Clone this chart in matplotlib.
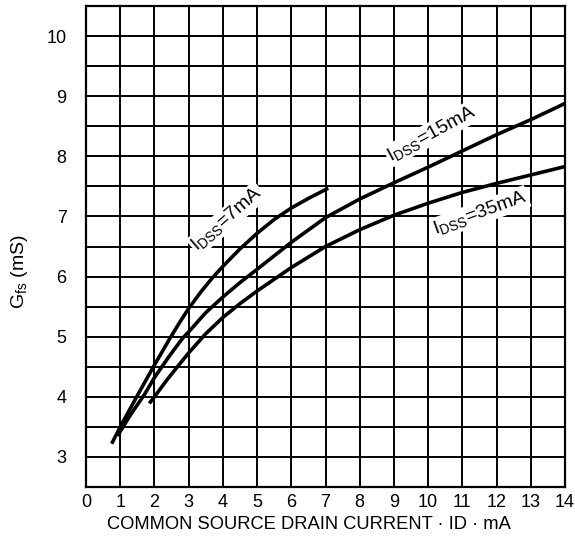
import matplotlib.pyplot as plt
import numpy as np

plt.rcParams['font.family'] = ['Liberation Sans', 'DejaVu Sans']
plt.rcParams['mathtext.fontset'] = 'custom'
plt.rcParams['mathtext.rm'] = 'Liberation Sans'

# transconductance vs drain current, one curve per IDSS
id_7 = [0.75, 1.0, 1.48, 1.97, 2.46, 2.75, 2.99, 3.35, 3.68, 4.0, 4.5, 5.0, 5.5, 6.0, 6.5, 7.08]
gfs_7 = [3.22, 3.5, 4.0, 4.5, 4.98, 5.25, 5.46, 5.74, 5.97, 6.17, 6.46, 6.72, 6.95, 7.14, 7.3, 7.47]

id_15 = [0.92, 1.3, 1.72, 2.0, 2.4, 2.83, 3.0, 3.5, 4.0, 4.5, 5.0, 6.0, 7.0, 8.0, 9.0,
         10.0, 11.0, 12.0, 13.0, 14.0]
gfs_15 = [3.35, 3.7, 4.05, 4.32, 4.65, 4.98, 5.08, 5.4, 5.66, 5.9, 6.12, 6.57, 6.98,
          7.29, 7.56, 7.82, 8.09, 8.36, 8.61, 8.88]

id_35 = [1.85, 2.0, 2.35, 2.7, 3.0, 3.5, 4.0, 4.5, 5.0, 6.0, 7.0, 8.0, 9.0, 10.0,
         11.0, 12.0, 13.0, 14.0]
gfs_35 = [3.89, 4.0, 4.27, 4.52, 4.73, 5.05, 5.32, 5.55, 5.76, 6.15, 6.5, 6.78, 7.02,
          7.22, 7.4, 7.55, 7.69, 7.83]

x_ticks = list(range(0, 15))
y_ticks = [3, 4, 5, 6, 7, 8, 9, 10]

fig = plt.figure(figsize=(5.75, 5.38), dpi=100)
ax = fig.add_axes([0.1496, 0.0948, 0.833, 0.894])

for xv in x_ticks[1:-1]:
    ax.axvline(xv, color='black', lw=1.4, zorder=1)
for yv in np.arange(3, 10.01, 0.5):
    ax.axhline(yv, color='black', lw=1.4, zorder=1)

for xs, ys in [(id_7, gfs_7), (id_15, gfs_15), (id_35, gfs_35)]:
    ax.plot(xs, ys, color='black', lw=2.6, solid_capstyle='butt',
            solid_joinstyle='round', zorder=3)

lbl = dict(fontsize=14, ha='center', va='center', zorder=4,
           bbox=dict(facecolor='white', edgecolor='none', pad=1.0))
ax.text(4.12, 6.96, r'$\mathregular{I_{DSS}}$=7mA', rotation=41, **lbl)
ax.text(10.1, 8.38, r'$\mathregular{I_{DSS}}$=15mA', rotation=28.5, **lbl)
ax.text(11.52, 7.06, r'$\mathregular{I_{DSS}}$=35mA', rotation=20, **lbl)

ax.set_xlim(0, 14)
ax.set_ylim(2.5, 10.5)
ax.set_xticks(x_ticks)
ax.set_yticks(y_ticks)
ax.tick_params(axis='both', length=0, labelsize=13)
ax.tick_params(axis='x', pad=5)
ax.tick_params(axis='y', pad=14)
for sp in ax.spines.values():
    sp.set_linewidth(1.6)

ax.set_xlabel('COMMON SOURCE DRAIN CURRENT · ID · mA', fontsize=13.2)
ax.xaxis.set_label_coords(0.466, -0.061)
ax.set_ylabel(r'$\mathregular{G_{fs}}$ (mS)', fontsize=14)
ax.yaxis.set_label_coords(-0.118, 0.447)

fig.savefig('out.png', dpi=100)
